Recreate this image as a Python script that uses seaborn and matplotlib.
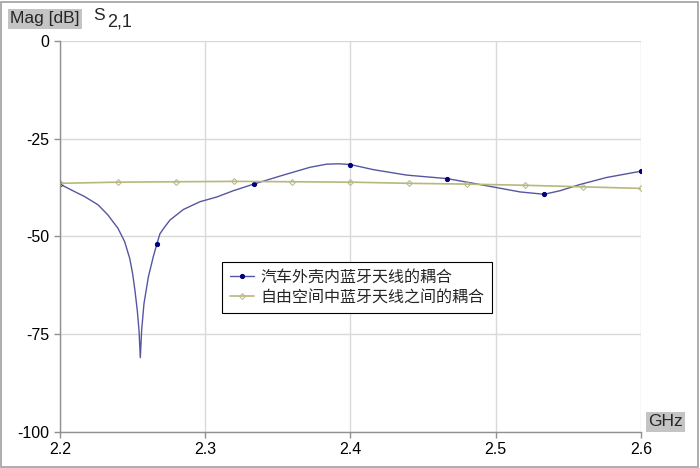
import numpy as np
import pandas as pd
import matplotlib
matplotlib.use("Agg")
import matplotlib.pyplot as plt
import seaborn as sns
from matplotlib.patches import Rectangle

# --- data ---
car_freq = [2.2000, 2.2078, 2.2170, 2.2262, 2.2330, 2.2399, 2.2445, 2.2480, 2.2500,
            2.2516, 2.2532, 2.2544, 2.2553, 2.2562, 2.2578, 2.2608, 2.2642, 2.2667,
            2.2688, 2.2720, 2.2757, 2.2849, 2.2964, 2.3079, 2.3193, 2.3333, 2.3537,
            2.3721, 2.3836, 2.3920, 2.4000, 2.4157, 2.4387, 2.4667, 2.4846, 2.5007,
            2.5167, 2.5333, 2.5442, 2.5580, 2.5764, 2.6000]
car_mag = [-36.6, -38.1, -39.8, -41.9, -44.5, -47.9, -51.3, -55.6, -59.5,
           -63.8, -68.9, -74.0, -81.0, -74.0, -67.2, -60.4, -55.2, -51.9,
           -49.3, -47.6, -45.8, -43.1, -41.1, -39.9, -38.3, -36.6, -34.3,
           -32.3, -31.5, -31.4, -31.6, -32.9, -34.3, -35.2, -36.4, -37.5,
           -38.6, -39.2, -38.3, -36.7, -34.9, -33.3]
car_marker_freq = [2.2000, 2.2667, 2.3333, 2.4000, 2.4667, 2.5333, 2.6000]

free_freq = [2.20, 2.24, 2.28, 2.32, 2.36, 2.40, 2.44, 2.48, 2.52, 2.56, 2.60]
free_mag = [-36.4, -36.1, -36.0, -35.9, -36.0, -36.1, -36.4, -36.6, -36.9, -37.3, -37.7]

x_ticks = [2.2, 2.3, 2.4, 2.5, 2.6]
y_ticks = [0, -25, -50, -75, -100]

label_car = "汽车外壳内蓝牙天线的耦合"
label_free = "自由空间中蓝牙天线之间的耦合"

sns.set_style("white")
plt.rcParams['font.family'] = ['Liberation Sans', 'Noto Sans CJK SC', 'DejaVu Sans']

fig = plt.figure(figsize=(7, 4.68), dpi=100)
ax = fig.add_axes([60 / 700, 36 / 468, 581 / 700, 391 / 468])

car_df = pd.DataFrame({"freq": car_freq, "mag": car_mag})
free_df = pd.DataFrame({"freq": free_freq, "mag": free_mag})
mark_idx = [i for i, f in enumerate(car_freq) if f in car_marker_freq]

sns.lineplot(data=car_df, x="freq", y="mag", ax=ax, color="#5656a0", lw=1.0,
             marker="o", markersize=3, markerfacecolor="#000080",
             markeredgecolor="#000080", markevery=mark_idx, label=label_car)
sns.lineplot(data=free_df, x="freq", y="mag", ax=ax, color="#b6b87c", lw=1.2,
             marker="D", markersize=3, markerfacecolor="none",
             markeredgecolor="#b8ba88", label=label_free)

ax.set_xlim(2.2, 2.6)
ax.set_ylim(-100, 0)
ax.set_xticks(x_ticks)
ax.set_xticklabels([f"{t:.1f}" for t in x_ticks])
ax.set_yticks(y_ticks)
ax.set_yticklabels([str(t) for t in y_ticks])
ax.set_xlabel("")
ax.set_ylabel("")
ax.grid(True, color="#d9d9d9", lw=1.0)
for s in ["top", "right"]:
    ax.spines[s].set_visible(False)
for s in ["left", "bottom"]:
    ax.spines[s].set_color("#909090")
    ax.spines[s].set_linewidth(1.0)
ax.tick_params(axis="both", direction="out", length=4, width=1, color="#909090",
               labelsize=11.5, labelcolor="black", left=True, bottom=True)

leg = ax.legend(loc="upper left", bbox_to_anchor=((222 - 60) / 581, (432 - 262) / 391),
                borderaxespad=0, fancybox=False, framealpha=1, edgecolor="black",
                fontsize=11.5, handlelength=1.5, borderpad=0.5, labelspacing=0.3,
                handletextpad=0.4)
leg.get_frame().set_linewidth(0.8)

# header labels
fig.text(10 / 700, 1 - 19 / 468, "Mag [dB]", fontsize=12.5, va="center", ha="left",
         bbox=dict(boxstyle="square,pad=0.12", fc="#c4c4c4", ec="none"))
fig.text(93 / 700, 1 - 15 / 468, "S", fontsize=12.5, va="center", ha="left")
fig.text(107 / 700, 1 - 22 / 468, "2,1", fontsize=13, va="center", ha="left")
fig.text(648 / 700, 1 - 422 / 468, "GHz", fontsize=12.5, va="center", ha="left",
         bbox=dict(boxstyle="square,pad=0.12", fc="#c4c4c4", ec="none"))

# outer frame
fig.patches.append(Rectangle((0.002, 0.003), 0.995, 0.993, transform=fig.transFigure,
                             fill=False, ec="#a0a0a0", lw=1.2))

fig.savefig("out.png", dpi=100)
